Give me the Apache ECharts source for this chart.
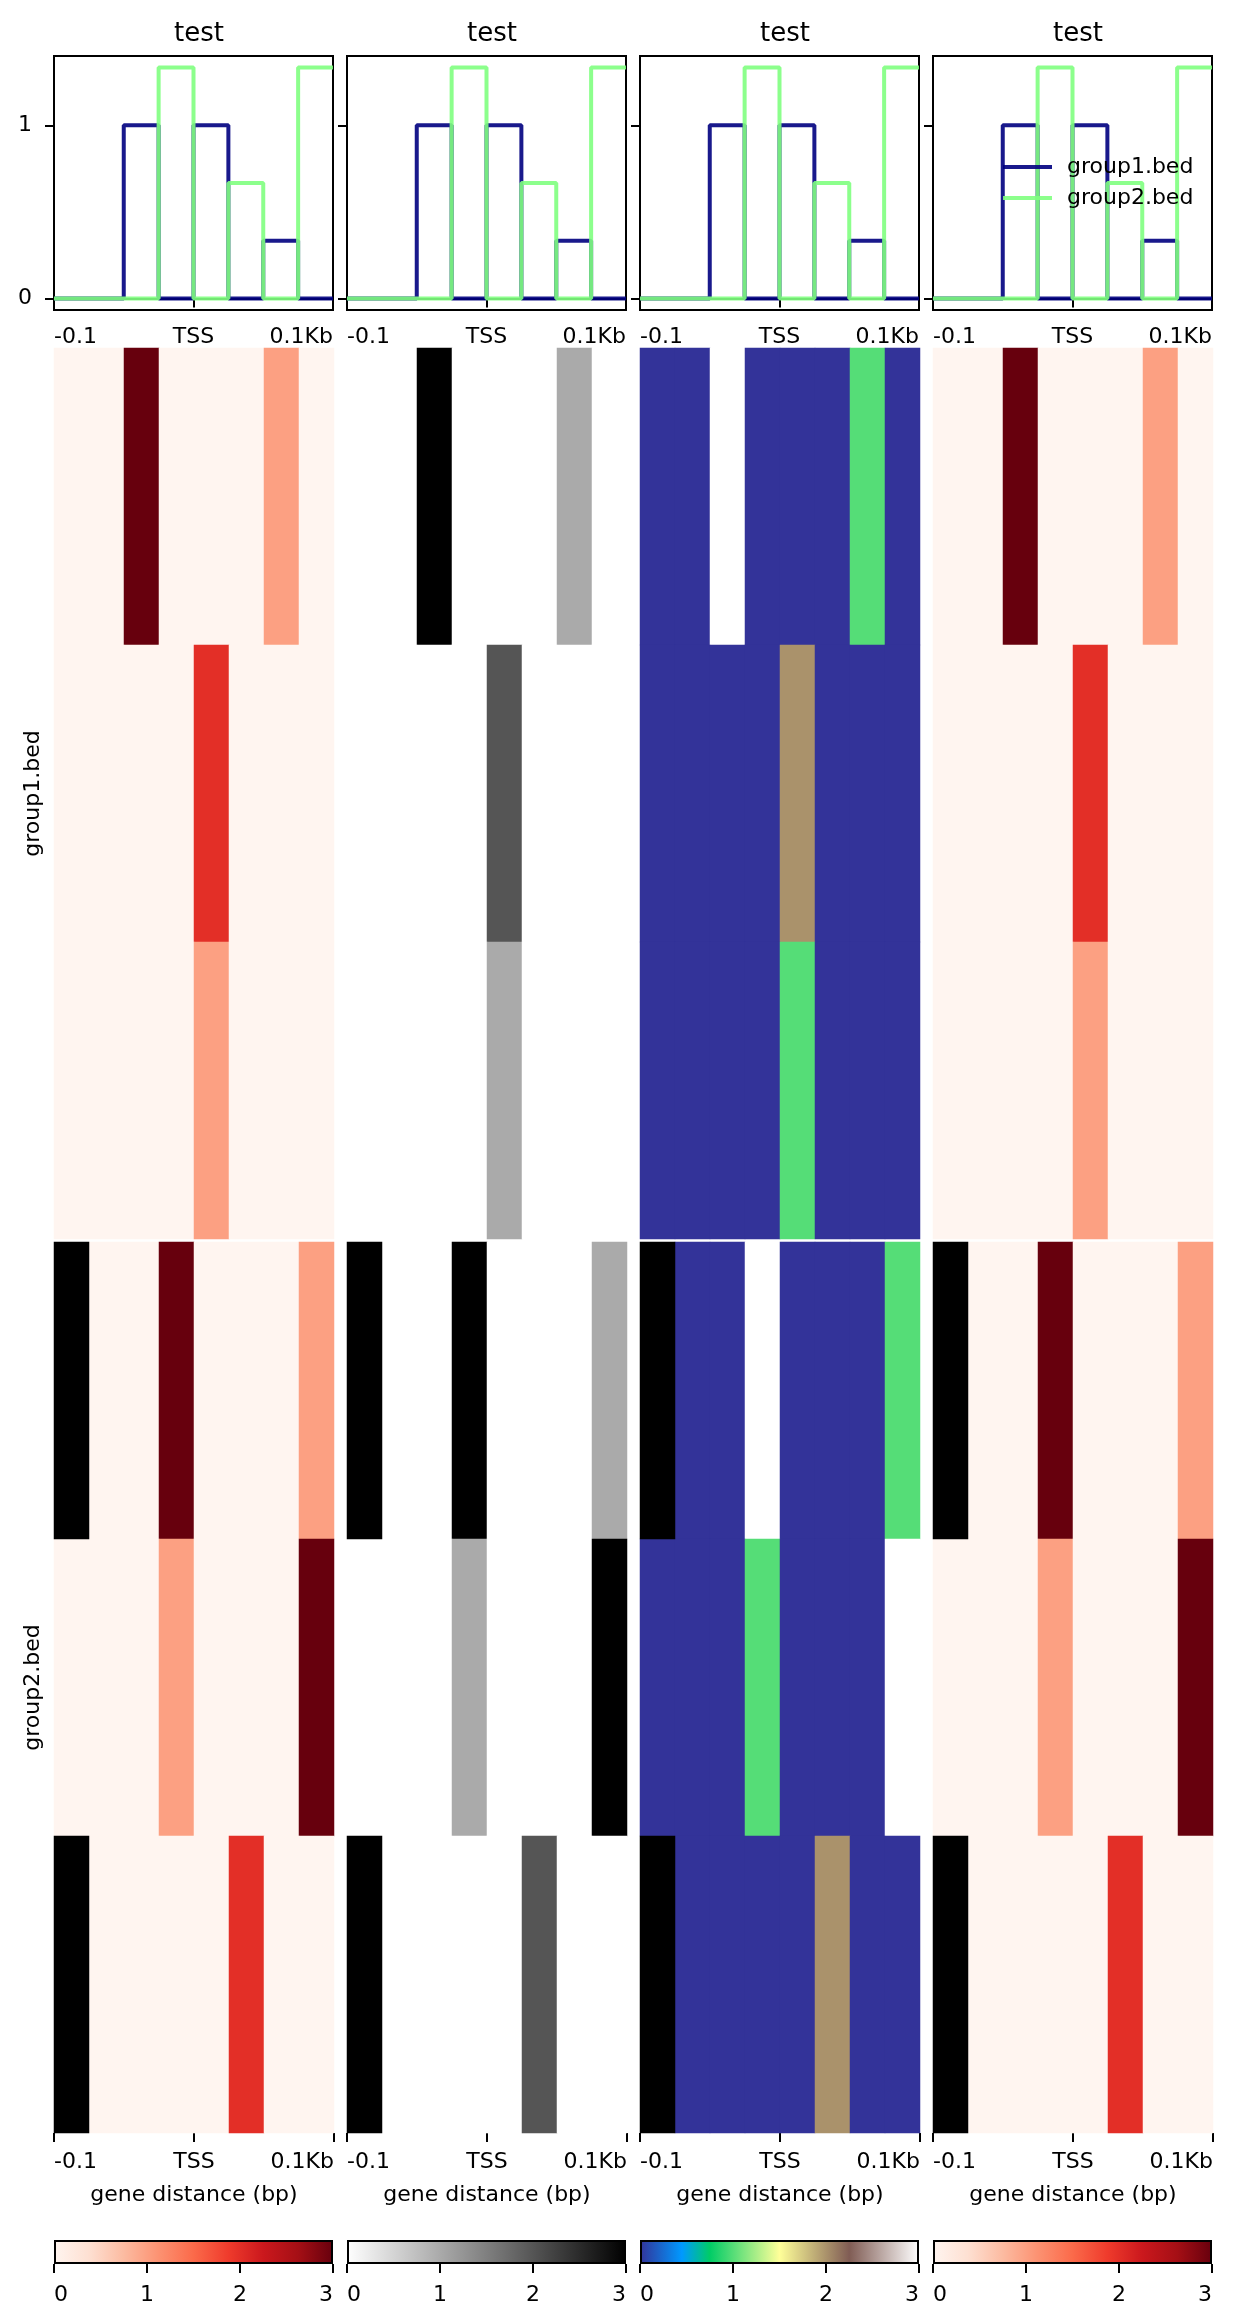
<!DOCTYPE html>
<html>
<head>
<meta charset="utf-8">
<script src="https://cdn.jsdelivr.net/npm/echarts@6/dist/echarts.min.js"></script>
<style>
  html, body { margin: 0; padding: 0; background: #fff; }
  #chart { width: 1236px; height: 2324px; }
</style>
</head>
<body>
<div id="chart"></div>
<script>
// bins over the region (-0.1 kb .. TSS .. +0.1 kb)
const bins = ['1', '2', '3', '4', '5', '6', '7', '8'];
const xTickPos = [0, 4, 8];
const xTickLabels = ['-0.1', 'TSS', '0.1Kb'];
const groupNames = ['group1.bed', 'group2.bed'];
const colTitles = ['test', 'test', 'test', 'test'];
const colCmaps = ['Reds', 'gray_r', 'terrain', 'Reds'];

// heatmap rows per group, null = missing data (drawn black)
const group1Rows = [
  [0, 0, 3, 0, 0, 0, 1, 0],
  [0, 0, 0, 0, 2, 0, 0, 0],
  [0, 0, 0, 0, 1, 0, 0, 0]
];
const group2Rows = [
  [null, 0, 0, 3, 0, 0, 0, 1],
  [0, 0, 0, 1, 0, 0, 0, 3],
  [null, 0, 0, 0, 0, 2, 0, 0]
];

// summary profile on top
const group1Profile = [0, 0, 1, 0, 1, 0, 0.333, 0];
const group2Profile = [0, 0, 0, 1.333, 0, 0.667, 0, 1.333];
const profileTicks = [0, 1];
const profileRange = [-0.0667, 1.4];
const colorbarTicks = [0, 1, 2, 3];

// colormaps (matplotlib)
const cmaps = {
  Reds: [[0, '#fff5f0'], [0.125, '#fee0d2'], [0.25, '#fcbba1'], [0.375, '#fc9272'], [0.5, '#fb6a4a'],
         [0.625, '#ef3b2c'], [0.75, '#cb181d'], [0.875, '#a50f15'], [1, '#67000d']],
  gray_r: [[0, '#ffffff'], [1, '#000000']],
  terrain: [[0, '#333399'], [0.15, '#0099ff'], [0.25, '#00cc66'], [0.5, '#ffff99'], [0.75, '#805c54'], [1, '#ffffff']]
};

const FONT = 'DejaVu Sans';
const colLeft = [54, 347, 640, 933];
const colW = 280;
const groupTop = [348, 1242];
const groupH = 891;
const lineColors = ['rgba(0,0,128,0.9)', 'rgba(127,255,127,0.9)'];

function hex2rgb(h) {
  return [1, 3, 5].map(i => parseInt(h.substr(i, 2), 16));
}
function sampleCmap(stops, n) {
  const out = [];
  for (let k = 0; k < n; k++) {
    const t = k / (n - 1);
    let j = 0;
    while (j < stops.length - 2 && t > stops[j + 1][0]) j++;
    const f = (t - stops[j][0]) / (stops[j + 1][0] - stops[j][0]);
    const a = hex2rgb(stops[j][1]), b = hex2rgb(stops[j + 1][1]);
    out.push('rgb(' + a.map((v, i) => Math.round(v + (b[i] - v) * f)).join(',') + ')');
  }
  return out;
}

const black = { color: '#000', width: 2 };
const hiddenLine = { show: true, lineStyle: { color: 'rgba(0,0,0,0)', width: 0 } };
const labelStyle = { fontSize: 22, color: '#000', fontFamily: FONT };

const grid = [], xAxis = [], yAxis = [], series = [], title = [];
const vmSeries = {};

colTitles.forEach((t, c) => {
  const left = colLeft[c];
  title.push({
    text: t, left: left + colW / 2, top: 16, textAlign: 'center',
    textStyle: { fontSize: 26, fontWeight: 'normal', color: '#000', fontFamily: FONT }
  });

  // profile plot
  grid.push({ left: left, top: 56, width: colW - 1, height: 254, show: true, borderColor: '#000', borderWidth: 2 });
  let gi = grid.length - 1;
  xAxis.push({
    gridIndex: gi, type: 'value', min: 0, max: bins.length, interval: 4,
    axisLine: { lineStyle: black }, axisTick: { length: 9, lineStyle: black },
    axisLabel: Object.assign({ margin: 16, alignMinLabel: 'left', alignMaxLabel: 'right',
      formatter: v => xTickLabels[xTickPos.indexOf(v)] }, labelStyle),
    splitLine: { show: false }
  });
  yAxis.push({
    gridIndex: gi, type: 'value', min: profileRange[0], max: profileRange[1],
    axisLine: { show: true, lineStyle: black },
    axisTick: { show: true, length: 9, lineStyle: black, customValues: profileTicks },
    axisLabel: Object.assign({ show: c === 0, margin: 22, customValues: profileTicks }, labelStyle),
    splitLine: { show: false }
  });
  [group1Profile, group2Profile].forEach((prof, k) => {
    const pts = prof.map((v, i) => [i, v]);
    pts.push([prof.length, prof[prof.length - 1]]);
    series.push({
      name: groupNames[k], type: 'line', step: 'end', symbol: 'none',
      xAxisIndex: xAxis.length - 1, yAxisIndex: yAxis.length - 1,
      lineStyle: { width: 4, color: lineColors[k] }, itemStyle: { color: lineColors[k] },
      data: pts
    });
  });

  // heatmaps, one grid per group
  [group1Rows, group2Rows].forEach((rows, g) => {
    grid.push({ left: left, top: groupTop[g], width: colW, height: groupH });
    gi = grid.length - 1;
    xAxis.push({ gridIndex: gi, type: 'category', data: bins, show: false });
    const catX = xAxis.length - 1;
    if (g === 1) {
      xAxis.push({
        gridIndex: gi, type: 'value', min: 0, max: bins.length, interval: 4, position: 'bottom',
        axisLine: hiddenLine, axisTick: { show: true, length: 9, lineStyle: black },
        axisLabel: Object.assign({ margin: 18, alignMinLabel: 'left', alignMaxLabel: 'right',
          formatter: v => xTickLabels[xTickPos.indexOf(v)] }, labelStyle),
        splitLine: { show: false },
        name: 'gene distance (bp)', nameLocation: 'middle', nameGap: 51, nameTextStyle: labelStyle
      });
    }
    yAxis.push({
      gridIndex: gi, type: 'category', data: rows.map((r, i) => String(i)), inverse: true,
      axisLine: { show: false }, axisTick: { show: false }, axisLabel: { show: false },
      splitLine: { show: false },
      name: c === 0 ? groupNames[g] : '', nameLocation: 'middle', nameRotate: 90, nameGap: 10,
      nameTextStyle: labelStyle
    });
    const vals = [], missing = [];
    rows.forEach((r, y) => r.forEach((v, x) => {
      if (v === null) missing.push([x, y, 0]);
      else vals.push([x, y, v]);
    }));
    series.push({
      type: 'heatmap', xAxisIndex: catX, yAxisIndex: yAxis.length - 1, data: vals,
      emphasis: { disabled: true }
    });
    (vmSeries[colCmaps[c]] = vmSeries[colCmaps[c]] || []).push(series.length - 1);
    series.push({
      type: 'heatmap', xAxisIndex: catX, yAxisIndex: yAxis.length - 1, data: missing,
      itemStyle: { color: '#000' }, emphasis: { disabled: true }
    });
  });

  // colorbar
  grid.push({ left: left, top: 2240, width: colW - 1, height: 24 });
  gi = grid.length - 1;
  xAxis.push({
    gridIndex: gi, type: 'value', min: colorbarTicks[0], max: colorbarTicks[colorbarTicks.length - 1], interval: 1,
    axisLine: hiddenLine, axisTick: { show: true, length: 9, lineStyle: black },
    axisLabel: Object.assign({ margin: 20, alignMinLabel: 'left', alignMaxLabel: 'right' }, labelStyle),
    splitLine: { show: false }
  });
  yAxis.push({ gridIndex: gi, type: 'category', data: [''], show: false });
  series.push({
    type: 'bar', xAxisIndex: xAxis.length - 1, yAxisIndex: yAxis.length - 1, barWidth: '100%',
    data: [colorbarTicks[colorbarTicks.length - 1]],
    itemStyle: {
      color: { type: 'linear', x: 0, y: 0, x2: 1, y2: 0,
        colorStops: cmaps[colCmaps[c]].map(s => ({ offset: s[0], color: s[1] })) },
      borderColor: '#000', borderWidth: 2
    },
    emphasis: { disabled: true }
  });
});

const visualMap = Object.keys(vmSeries).map(name => ({
  type: 'continuous', show: false, min: 0, max: 3,
  seriesIndex: vmSeries[name],
  inRange: { color: sampleCmap(cmaps[name], 25) }
}));

const chart = echarts.init(document.getElementById('chart'), null, { renderer: 'canvas' });
chart.setOption({
  animation: false,
  backgroundColor: '#fff',
  textStyle: { fontFamily: FONT },
  title: title,
  legend: {
    data: groupNames, orient: 'vertical', left: 998, top: 151,
    icon: 'rect', itemWidth: 49, itemHeight: 4, itemGap: 9,
    textStyle: { fontSize: 22, color: '#000', fontFamily: FONT, padding: [0, 0, 0, 10] }
  },
  grid: grid,
  xAxis: xAxis,
  yAxis: yAxis,
  visualMap: visualMap,
  series: series
});
</script>
</body>
</html>
